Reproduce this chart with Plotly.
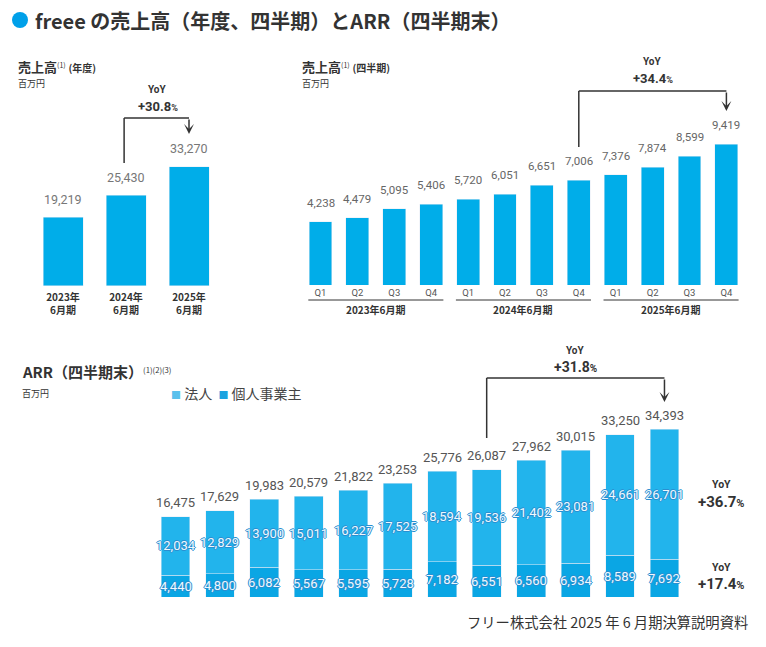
import plotly.graph_objects as go

W, H = 766, 647

# ---------------- data ----------------
annual_periods = ["2023年<br>6月期", "2024年<br>6月期", "2025年<br>6月期"]
annual_sales = [19219, 25430, 33270]

quarter_labels = ["Q1", "Q2", "Q3", "Q4", "Q1", "Q2", "Q3", "Q4", "Q1", "Q2", "Q3", "Q4"]
fiscal_years = ["2023年6月期", "2024年6月期", "2025年6月期"]
quarterly_sales = [4238, 4479, 5095, 5406, 5720, 6051, 6651, 7006, 7376, 7874, 8599, 9419]

arr_corporate = [12034, 12829, 13900, 15011, 16227, 17525, 18594, 19536, 21402, 23081, 24661, 26701]
arr_individual = [4440, 4800, 6082, 5567, 5595, 5728, 7182, 6551, 6560, 6934, 8589, 7692]
arr_total = [16475, 17629, 19983, 20579, 21822, 23253, 25776, 26087, 27962, 30015, 33250, 34393]

yoy_annual = "+30.8"
yoy_quarter = "+34.4"
yoy_arr = "+31.8"
yoy_corporate = "+36.7"
yoy_individual = "+17.4"

# ---------------- styling ----------------
BLUE = "#00ADE9"
C_CORP = "#22B4EC"
C_IND = "#0AA6E4"
DARK = "#333333"
JP = "Noto Sans CJK JP"
NUM = "Roboto"


def PX(x):
    return x / W


def PY(y):
    return 1 - y / H


k1 = 119 / 33270
k2 = 141 / 9419
k3 = 168 / 34393

fig = go.Figure()

# annual bars
fig.add_trace(go.Bar(x=list(range(len(annual_sales))), y=annual_sales, marker_color=BLUE,
                     width=0.635, xaxis="x", yaxis="y", showlegend=False, hoverinfo="skip"))
# quarterly bars
fig.add_trace(go.Bar(x=list(range(len(quarterly_sales))), y=quarterly_sales, marker_color=BLUE,
                     width=0.623, xaxis="x2", yaxis="y2", showlegend=False, hoverinfo="skip"))
# ARR stacked bars
xi = list(range(len(arr_total)))
fig.add_trace(go.Bar(x=xi, y=arr_individual, marker_color=C_IND, width=0.65,
                     xaxis="x3", yaxis="y3", name="個人事業主", showlegend=False, hoverinfo="skip"))
fig.add_trace(go.Bar(x=xi, y=arr_corporate, marker_color=C_CORP, width=0.65,
                     xaxis="x3", yaxis="y3", name="法人", showlegend=False, hoverinfo="skip"))

ann = []
shapes = []

# value labels
for i, v in enumerate(annual_sales):
    ann.append(dict(x=i, y=v, xref="x", yref="y", text=f"{v:,}", showarrow=False,
                    yanchor="middle", yshift=18, font=dict(family=NUM, size=12.5, color="#777")))
for i, v in enumerate(quarterly_sales):
    ann.append(dict(x=i, y=v, xref="x2", yref="y2", text=f"{v:,}", showarrow=False,
                    yanchor="middle", yshift=19, font=dict(family=NUM, size=11.5, color="#666")))
for i, v in enumerate(arr_total):
    ann.append(dict(x=i, y=v, xref="x3", yref="y3", text=f"{v:,}", showarrow=False,
                    yanchor="middle", yshift=14, font=dict(family=NUM, size=13, color="#555")))

OUT = "#2A8ED0"
shadow = f"1px 0 0 {OUT}, -1px 0 0 {OUT}, 0 1px 0 {OUT}, 0 -1px 0 {OUT}"
for i in xi:
    ind = arr_individual[i]
    corp = arr_corporate[i]
    ann.append(dict(x=i, y=ind / 2, xref="x3", yref="y3", text=f"{ind:,}", showarrow=False,
                    yanchor="middle", font=dict(family=NUM, size=13, color="#EEF9FE", shadow=shadow)))
    ann.append(dict(x=i, y=ind + corp / 2, xref="x3", yref="y3", text=f"{corp:,}", showarrow=False,
                    yanchor="middle", font=dict(family=NUM, size=13, color="#EEF9FE", shadow=shadow)))

# title
shapes.append(dict(type="circle", xref="paper", yref="paper", x0=PX(12), x1=PX(28), y0=PY(28), y1=PY(12),
                   fillcolor="#00A0E9", line=dict(width=0)))
ann.append(dict(x=PX(33), y=PY(20), xref="paper", yref="paper", xanchor="left", yanchor="middle",
                text="<b>freee の売上高（年度、四半期）とARR（四半期末）</b>", showarrow=False,
                font=dict(family=JP, size=20, color=DARK)))


# sub titles
def subtitle(x, y, main, sup, extra, main_size=13):
    ann.append(dict(x=PX(x), y=PY(y), xref="paper", yref="paper", xanchor="left", yanchor="middle",
                    text=f"<b>{main}</b><span style='font-size:10px'><sup>{sup}</sup></span> "
                         f"<span style='font-size:10px'><b>{extra}</b></span>",
                    showarrow=False, font=dict(family=JP, size=main_size, color=DARK)))


subtitle(16, 66, "売上高", "(1)", "(年度)")
subtitle(300, 66, "売上高", "(1)", "(四半期)")
ann.append(dict(x=PX(20), y=PY(371), xref="paper", yref="paper", xanchor="left", yanchor="middle",
                text="<b>ARR（四半期末）</b><span style='font-size:11px'><sup>(1)(2)(3)</sup></span>",
                showarrow=False, font=dict(family=JP, size=15, color=DARK)))
for (x, y) in [(16, 83), (300, 83), (20, 393)]:
    ann.append(dict(x=PX(x), y=PY(y), xref="paper", yref="paper", xanchor="left", yanchor="middle",
                    text="百万円", showarrow=False, font=dict(family=JP, size=9, color=DARK)))

# legend (manual)
ann.append(dict(x=PX(169), y=PY(393), xref="paper", yref="paper", xanchor="left", yanchor="middle",
                text=f"<span style='color:#5BC0EC;font-size:10px'>■</span> 法人  "
                     f"<span style='color:#1AA3E0;font-size:10px'>■</span> 個人事業主",
                showarrow=False, font=dict(family=JP, size=14, color="#444")))

# quarterly group underlines and labels
for g, fy in enumerate(fiscal_years):
    shapes.append(dict(type="line", xref="x2", yref="paper", x0=4 * g - 0.33, x1=4 * g + 3 + 0.33,
                       y0=PY(300), y1=PY(300), line=dict(color=DARK, width=1)))
    ann.append(dict(x=4 * g + 1.5, y=PY(309), xref="x2", yref="paper", text=f"<b>{fy}</b>",
                    showarrow=False, xanchor="center", yanchor="middle",
                    font=dict(family=JP, size=10, color=DARK)))


# YoY brackets
def bracket(xref, xa, xb, y_bottom, y_top, y_tip, label_x, y_yoy, y_pct, pct, pct_size, yoy_size=10):
    lw = 1.5
    shapes.append(dict(type="line", xref=xref, yref="paper", x0=xa, x1=xa, y0=PY(y_bottom), y1=PY(y_top),
                       line=dict(color=DARK, width=lw)))
    shapes.append(dict(type="line", xref=xref, yref="paper", x0=xa, x1=xb, y0=PY(y_top), y1=PY(y_top),
                       line=dict(color=DARK, width=lw)))
    ann.append(dict(x=xb, y=PY(y_tip), xref=xref, yref="paper", text="", showarrow=True,
                    ax=0, ay=-(y_tip - y_top), arrowhead=3, arrowsize=1.1, arrowwidth=lw,
                    arrowcolor=DARK, standoff=0))
    ann.append(dict(x=label_x, y=PY(y_yoy), xref=xref, yref="paper", text="<b>YoY</b>", showarrow=False,
                    xanchor="center", yanchor="middle", font=dict(family=NUM, size=yoy_size, color=DARK)))
    ann.append(dict(x=label_x, y=PY(y_pct), xref=xref, yref="paper",
                    text=f"<b>{pct}<span style='font-size:{pct_size - 4}px'>%</span></b>", showarrow=False,
                    xanchor="center", yanchor="middle", font=dict(family=NUM, size=pct_size, color=DARK)))


bracket("x", 0.97, 2, 163, 118, 134, 1.5, 90, 107, yoy_annual, 13)
bracket("x2", 7, 11, 147, 91, 111, 9, 62, 78, yoy_quarter, 13)
bracket("x3", 7, 11, 438, 378, 402, 9, 350, 367, yoy_arr, 14)

# right side ARR YoY
for (y1, y2, p) in [(484, 502, yoy_corporate), (567, 584, yoy_individual)]:
    ann.append(dict(x=PX(721), y=PY(y1), xref="paper", yref="paper", text="<b>YoY</b>", showarrow=False,
                    xanchor="center", yanchor="middle", font=dict(family=NUM, size=10.5, color=DARK)))
    ann.append(dict(x=PX(721), y=PY(y2), xref="paper", yref="paper",
                    text=f"<b>{p}<span style='font-size:11px'>%</span></b>", showarrow=False,
                    xanchor="center", yanchor="middle", font=dict(family=NUM, size=15, color=DARK)))

# footer
ann.append(dict(x=PX(750), y=PY(621), xref="paper", yref="paper", xanchor="right", yanchor="middle",
                text="フリー株式会社 2025 年 6 月期決算説明資料", showarrow=False,
                font=dict(family=JP, size=14.3, color=DARK)))

axis_common = dict(showgrid=False, zeroline=False, showline=False, ticks="", fixedrange=True)

fig.update_layout(
    width=W, height=H,
    margin=dict(l=0, r=0, t=0, b=0),
    paper_bgcolor="white", plot_bgcolor="white",
    barmode="stack",
    showlegend=False,
    font=dict(family=JP, color=DARK),
    xaxis=dict(domain=[PX(31.5), PX(220.5)], range=[-0.5, 2.5], anchor="y",
               tickmode="array", tickvals=list(range(3)),
               ticktext=[f"<b>{p}</b>" for p in annual_periods], ticklabelstandoff=4,
               tickfont=dict(family=JP, size=10, color=DARK), **axis_common),
    yaxis=dict(domain=[PY(286), PY(286 - 40000 * k1)], range=[0, 40000], anchor="x",
               visible=False, **axis_common),
    xaxis2=dict(domain=[PX(302.05), PX(744.85)], range=[-0.5, 11.5], anchor="y2",
                tickmode="array", tickvals=list(range(12)), ticktext=quarter_labels,
                tickfont=dict(family=NUM, size=9.5, color="#555"), **axis_common),
    yaxis2=dict(domain=[PY(285), PY(285 - 10000 * k2)], range=[0, 10000], anchor="x2",
                visible=False, **axis_common),
    xaxis3=dict(domain=[PX(153.3), PX(686.7)], range=[-0.5, 11.5], anchor="y3",
                showticklabels=False, **axis_common),
    yaxis3=dict(domain=[PY(597), PY(597 - 36000 * k3)], range=[0, 36000], anchor="x3",
                visible=False, **axis_common),
    annotations=ann,
    shapes=shapes,
)

fig.write_html("out.html")
